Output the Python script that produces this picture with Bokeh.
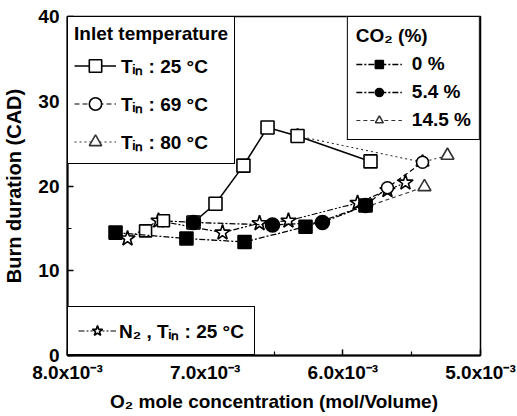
from bokeh.plotting import figure
from bokeh.models import Range1d, FixedTicker, Legend, LegendItem
from bokeh.embed import file_html
from bokeh.resources import INLINE

# ---------------- data ----------------
x_tick_vals = [8.0e-3, 7.0e-3, 6.0e-3, 5.0e-3]
x_tick_labels = ["8.0x10\u207b\u00b3", "7.0x10\u207b\u00b3", "6.0x10\u207b\u00b3", "5.0x10\u207b\u00b3"]
x_minor_vals = [7.5e-3, 6.5e-3, 5.5e-3]
y_tick_vals = [0, 10, 20, 30, 40]
y_minor_vals = [5, 15, 25, 35]

# Inlet temperature series
tin25_x = [7.085e-3, 6.925e-3, 6.722e-3, 6.547e-3, 6.329e-3, 5.799e-3]
tin25_y = [15.7, 17.9, 22.4, 26.9, 25.9, 22.9]
tin25_low_x = [7.433e-3, 7.303e-3, 7.085e-3]
tin25_low_y = [14.7, 15.9, 15.7]
tin69_x = [5.835e-3, 5.676e-3, 5.421e-3]
tin69_y = [17.7, 19.8, 22.8]
tin80_x = [6.329e-3, 5.421e-3, 5.240e-3]
tin80_y = [25.9, 22.8, 23.6]

# CO2 dilution series
co2_0_x = [7.651e-3, 7.136e-3, 6.714e-3, 6.271e-3, 5.835e-3]
co2_0_y = [14.5, 13.8, 13.4, 15.2, 17.7]
co2_54_x = [7.085e-3, 6.511e-3, 6.148e-3, 5.835e-3]
co2_54_y = [15.7, 15.4, 15.7, 17.7]
co2_145_x = [5.835e-3, 5.407e-3]
co2_145_y = [17.5, 19.9]

# N2 dilution, Tin 25 C
n2_x = [7.564e-3, 7.339e-3, 6.874e-3, 6.605e-3, 6.395e-3, 5.893e-3, 5.676e-3, 5.545e-3]
n2_y = [13.8, 15.9, 14.5, 15.6, 15.9, 18.0, 19.5, 20.4]

FONT = "Liberation Sans"
FS = "19px"

p = figure(width=517, height=416, output_backend="svg", toolbar_location=None,
           x_range=Range1d(8.0e-3, 5.0e-3), y_range=Range1d(0, 40),
           min_border_left=67, min_border_right=37, min_border_top=16, min_border_bottom=61)
p.background_fill_color = "white"
p.border_fill_color = "white"
p.xgrid.visible = False
p.ygrid.visible = False
p.outline_line_color = "black"
p.outline_line_width = 1.5

# axes
p.xaxis.ticker = FixedTicker(ticks=x_tick_vals, minor_ticks=x_minor_vals)
p.xaxis.major_label_overrides = dict(zip(x_tick_vals, x_tick_labels))
p.yaxis.ticker = FixedTicker(ticks=y_tick_vals, minor_ticks=y_minor_vals)
for ax in (p.xaxis[0], p.yaxis[0]):
    ax.axis_line_width = 2
    ax.axis_line_color = "black"
    ax.major_tick_in = 6
    ax.major_tick_out = 0
    ax.minor_tick_in = 4
    ax.minor_tick_out = 0
    ax.major_tick_line_width = 1.5
    ax.minor_tick_line_width = 1.2
    ax.major_label_text_font = FONT
    ax.major_label_text_font_size = FS
    ax.major_label_text_font_style = "bold"
    ax.major_label_text_color = "black"
    ax.axis_label_text_font = FONT
    ax.axis_label_text_font_size = FS
    ax.axis_label_text_font_style = "bold"
    ax.axis_label_text_color = "black"
p.xaxis.axis_label = "O\u2082 mole concentration (mol/Volume)"
p.yaxis.axis_label = "Burn duration (CAD)"
p.xaxis.major_label_standoff = 6
p.xaxis.axis_label_standoff = 5
p.yaxis.major_label_standoff = 8
p.yaxis.axis_label_standoff = 10
p.yaxis.axis_label_text_font_size = "20px"

# ---------------- series ----------------
def series(xs, ys, marker, fill, dash, size, lw=1.3, color="black", alpha=1.0):
    ln = p.line(xs, ys, line_color=color, line_width=lw, line_dash=dash, line_alpha=alpha)
    sc = p.scatter(xs, ys, marker=marker, size=size, fill_color=fill,
                   line_color=color, line_width=1.6, line_alpha=alpha)
    return [ln, sc]

r_tin80 = series(tin80_x, tin80_y, "triangle", "white", "2 3", 13, lw=1.1, color="#333333")
r_co2145 = series(co2_145_x, co2_145_y, "triangle", "white", "4 3", 13, lw=1.1, color="#333333")
r_n2 = series(n2_x, n2_y, "star", "white", "6 2 2 2 2 2", 16, lw=1.2)
r_tin69 = series(tin69_x, tin69_y, "circle", "white", "5 3", 12, lw=1.2)
r_tin25_low = series(tin25_low_x, tin25_low_y, "square", "white", "6 2 2 2", 12, lw=1.2)
r_tin25 = series(tin25_x, tin25_y, "square", "white", "solid", 13, lw=1.5)
r_co20 = series(co2_0_x, co2_0_y, "square", "black", "6 2 2 2", 13, lw=1.3)
r_co254 = series(co2_54_x, co2_54_y, "circle", "black", "6 2 2 2", 14, lw=1.3)

# ---------------- legends ----------------
def style_legend(lg):
    lg.border_line_color = "black"
    lg.border_line_width = 1.5
    lg.border_line_alpha = 1.0
    lg.background_fill_color = "white"
    lg.background_fill_alpha = 1.0
    lg.label_text_font = FONT
    lg.label_text_font_size = FS
    lg.label_text_font_style = "bold"
    lg.label_text_color = "black"
    lg.title_text_font = FONT
    lg.title_text_font_size = FS
    lg.title_text_font_style = "bold"
    lg.title_text_color = "black"
    lg.margin = 0
    lg.click_policy = "none"

leg_t = Legend(items=[
    LegendItem(label="T\u1d62\u2099 : 25 \u00b0C", renderers=r_tin25),
    LegendItem(label="T\u1d62\u2099 : 69 \u00b0C", renderers=r_tin69),
    LegendItem(label="T\u1d62\u2099 : 80 \u00b0C", renderers=r_tin80),
], location="top_left", title="Inlet temperature")
style_legend(leg_t)
leg_t.padding = 6
leg_t.glyph_width = 42
leg_t.glyph_height = 31
leg_t.label_height = 31
leg_t.spacing = 7
leg_t.label_standoff = 5
leg_t.title_standoff = 5

leg_c = Legend(items=[
    LegendItem(label="0 %", renderers=r_co20),
    LegendItem(label="5.4 %", renderers=r_co254),
    LegendItem(label="14.5 %", renderers=r_co2145),
], location="top_right", title="CO\u2082 (%)")
style_legend(leg_c)
leg_c.padding = 8
leg_c.glyph_width = 46
leg_c.glyph_height = 20
leg_c.label_height = 20
leg_c.spacing = 6
leg_c.label_standoff = 10
leg_c.title_standoff = 6

leg_n = Legend(items=[
    LegendItem(label="N\u2082 , T\u1d62\u2099 : 25 \u00b0C", renderers=r_n2),
], location="bottom_left")
style_legend(leg_n)
leg_n.padding = 10
leg_n.glyph_width = 38
leg_n.glyph_height = 27
leg_n.label_height = 27
leg_n.label_standoff = 3

p.add_layout(leg_t)
p.add_layout(leg_c)
p.add_layout(leg_n)

open("out.html", "w").write(file_html(p, INLINE))
